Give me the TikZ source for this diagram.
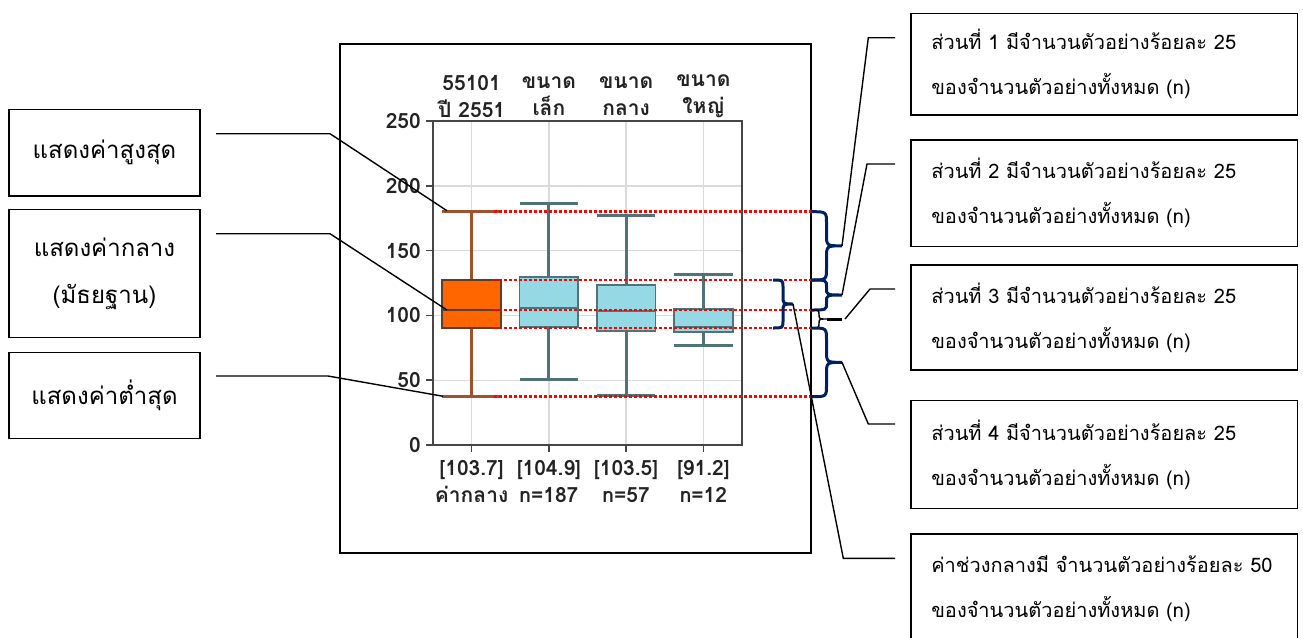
\documentclass[tikz,border=0pt]{standalone}
\usepackage{fontspec}
\newfontfamily\thaifont[Script=Thai]{Loma}
\definecolor{orfill}{RGB}{255,102,0}
\definecolor{orline}{RGB}{160,82,45}
\definecolor{oredge}{RGB}{90,62,40}
\definecolor{blfill}{RGB}{148,217,228}
\definecolor{bledge}{RGB}{80,115,120}
\definecolor{gridc}{RGB}{218,218,218}
\definecolor{spinec}{RGB}{70,70,70}
\definecolor{navy}{RGB}{0,32,96}
\definecolor{txtc}{RGB}{35,35,35}
\newcommand\mybrace[7]{%
  \pgfmathsetmacro\bxh{#2+#5/2}\pgfmathsetmacro\bxw{#2+#5}\pgfmathsetmacro\bm{(#3+#4)/2}%
  \draw[#1] (#2,#3) .. controls (\bxh,#3) .. (\bxh,#3+#6) -- (\bxh,\bm-#6)
    .. controls (\bxh,\bm) .. (\bxw,\bm) .. controls (\bxh,\bm) .. (\bxh,\bm+#6)
    -- (\bxh,#4-#6) .. controls (\bxh,#4) .. (#2,#4);
  \coordinate (#7) at (\bxw,\bm);}
\begin{document}
\begin{tikzpicture}[x=1pt,y=-1pt,
  lbox/.style={draw=black,line width=1.5pt,minimum width=191pt,align=center,
    font=\thaifont\fontsize{24}{47}\selectfont,inner sep=0pt},
  rbox/.style={draw=black,line width=1.5pt,minimum width=386.7pt,text width=346pt,
    align=left,inner xsep=20pt,font=\thaifont\fontsize{20}{45}\selectfont},
  conn/.style={draw=black,line width=1.4pt},
  gridl/.style={draw=gridc,line width=1.4pt},
  spine/.style={draw=spinec,line width=1.6pt},
  ticklab/.style={font=\thaifont\bfseries\fontsize{21}{24}\selectfont,text=txtc,inner sep=0pt},
  toplab/.style={font=\thaifont\bfseries\fontsize{21}{27}\selectfont,text=txtc,align=center,inner sep=0pt},
  whisk1/.style={draw=orline,line width=3pt},
  whisk2/.style={draw=bledge,line width=3pt},
  box1/.style={draw=oredge,fill=orfill,line width=1.8pt},
  box2/.style={draw=bledge,fill=blfill,line width=1.8pt},
  med1/.style={draw=oredge,line width=1.8pt},
  med2/.style={draw=bledge,line width=1.8pt},
  reddot/.style={draw=red,line width=2.5pt,dash pattern=on 2.5pt off 2.5pt},
  navybrace/.style={draw=navy,line width=3pt},
  blkbrace/.style={draw=black,line width=1.4pt}]
\useasboundingbox (0,0) rectangle (1303,637);
% chart frame
\node[draw=black,line width=2pt,minimum width=471pt,minimum height=509pt,inner sep=0pt] (frame) at (575.5,298.5) {};
% plot
\begin{scope}[shift={(394.375,445)},x=77.25pt,y=1.296pt]
  \foreach \v in {50,100,150,200} \draw[gridl] (0.5,\v) -- (4.5,\v);
  \foreach \k in {1,...,4} \draw[gridl] (\k,0) -- (\k,250);
  \draw[spine] (0.5,0) rectangle (4.5,250);
  \foreach \v in {0,50,...,250} {
    \draw[spine] (0.5,\v) -- ++(-7pt,0);
    \node[ticklab,anchor=east,xshift=-12pt] (yl\v) at (0.5,\v) {\v};}
  \foreach \k in {1,...,4} \draw[spine] (\k,0) -- ++(0,-7pt);
  % box 1
  \draw[whisk1] (1,37.3) -- (1,90.3) (1,127.3) -- (1,180) (0.62,180) -- (1.38,180) (0.62,37.3) -- (1.38,37.3);
  \draw[box1] (0.62,90.3) rectangle (1.38,127.3);
  \draw[med1] (0.62,104.2) -- (1.38,104.2);
  \coordinate (maxpt) at (0.68,180.8);
  \coordinate (medpt) at (0.68,104.2);
  \coordinate (minpt) at (0.63,37.6);
  % box 2
  \draw[whisk2] (2,50.4) -- (2,91.3) (2,129.9) -- (2,186.2) (1.62,186.2) -- (2.38,186.2) (1.62,50.4) -- (2.38,50.4);
  \draw[box2] (1.62,91.3) rectangle (2.38,129.9);
  \draw[med2] (1.62,105.7) -- (2.38,105.7);
  % box 3
  \draw[whisk2] (3,38) -- (3,88) (3,123.5) -- (3,176.7) (2.62,176.7) -- (3.38,176.7) (2.62,38) -- (3.38,38);
  \draw[box2] (2.62,88) rectangle (3.38,123.5);
  \draw[med2] (2.62,103.4) -- (3.38,103.4);
  % box 4
  \draw[whisk2] (4,76.4) -- (4,87) (4,104.7) -- (4,131.7) (3.62,131.7) -- (4.38,131.7) (3.62,76.4) -- (4.38,76.4);
  \draw[box2] (3.62,87) rectangle (4.38,104.7);
  \draw[med2] (3.62,91.3) -- (4.38,91.3);
  % red dotted reference lines
  \foreach \v in {180,127.3,104.2,90.3,37.3} \draw[reddot] (1.29,\v) -- (5.393,\v);
\end{scope}
% titles
\node[toplab] (t1) at (471.6,96.4) {55101\\ปี 2551};
\node[toplab] (t2) at (548.9,96.4) {ขนาด\\เล็ก};
\node[toplab] (t3) at (626.1,96.4) {ขนาด\\กลาง};
\node[toplab] (t4) at (703.4,96.4) {ขนาด\\ใหญ่};
\node[toplab] (b1) at (471.6,481.5) {[103.7]\\ค่ากลาง};
\node[toplab] (b2) at (548.9,481.5) {[104.9]\\n=187};
\node[toplab] (b3) at (626.1,481.5) {[103.5]\\n=57};
\node[toplab] (b4) at (703.4,481.5) {[91.2]\\n=12};
% braces
\mybrace{navybrace}{811}{211.7}{280}{31}{12}{br1}
\mybrace{navybrace}{811}{280}{310}{31}{7}{br2}
\mybrace{blkbrace}{811}{310}{328}{16}{5}{br3}
\draw[draw=black,line width=3pt] (br3) -- ++(15,0) coordinate (br3t);
\mybrace{navybrace}{811}{328}{396.7}{31}{12}{br4}
\mybrace{navybrace}{773}{280}{328}{20}{8}{br5}
% left boxes
\node[lbox,minimum height=86.7pt] (lb1) at (104.5,152.7) {\raisebox{4pt}{แสดงค่าสูงสุด}};
\node[lbox,minimum height=128.4pt] (lb2) at (104.5,273.5) {แสดงค่ากลาง\\(มัธยฐาน)};
\node[lbox,minimum height=85.6pt] (lb3) at (104.5,395.5) {\raisebox{5pt}{แสดงค่าต่ำสุด}};
% right boxes
\node[rbox,minimum height=101.7pt] (rb1) at (1104.3,64.2) {ส่วนที่ 1 มีจำนวนตัวอย่างร้อยละ 25\\ของจำนวนตัวอย่างทั้งหมด (n)};
\node[rbox,minimum height=106.7pt] (rb2) at (1104.3,193.3) {ส่วนที่ 2 มีจำนวนตัวอย่างร้อยละ 25\\ของจำนวนตัวอย่างทั้งหมด (n)};
\node[rbox,minimum height=105pt] (rb3) at (1104.3,317.5) {ส่วนที่ 3 มีจำนวนตัวอย่างร้อยละ 25\\ของจำนวนตัวอย่างทั้งหมด (n)};
\node[rbox,minimum height=107.6pt] (rb4) at (1104.3,454.5) {ส่วนที่ 4 มีจำนวนตัวอย่างร้อยละ 25\\ของจำนวนตัวอย่างทั้งหมด (n)};
\node[rbox,minimum height=110pt] (rb5) at (1104.3,589) {ค่าช่วงกลางมี จำนวนตัวอย่างร้อยละ 50\\ของจำนวนตัวอย่างทั้งหมด (n)};
% connector free ends
\coordinate (l1s) at (216,133.7); \coordinate (l1k) at (330,133.7);
\coordinate (l2s) at (216,233.7); \coordinate (l2k) at (330,233.7);
\coordinate (l3s) at (216,376);   \coordinate (l3k) at (328,376);
\coordinate (r1s) at (895,37.7);  \coordinate (r1k) at (868.3,37.7);
\coordinate (r2s) at (895,164);   \coordinate (r2k) at (867,164);
\coordinate (r3s) at (895,289);   \coordinate (r3k) at (870,289);
\coordinate (r4s) at (895,424);   \coordinate (r4k) at (868.3,424);
\coordinate (r5s) at (895,558.3); \coordinate (r5k) at (843.3,558.3);
\draw[conn] (l1s) -- (l1k) -- (maxpt);
\draw[conn] (l2s) -- (l2k) -- (medpt);
\draw[conn] (l3s) -- (l3k) -- (minpt);
\draw[conn] (r1s) -- (r1k) -- (br1);
\draw[conn] (r2s) -- (r2k) -- (br2);
\draw[conn] (r3s) -- (r3k) -- ([xshift=3pt]br3t);
\draw[conn] (r4s) -- (r4k) -- (br4);
\draw[conn] (r5s) -- (r5k) -- (br5);
\end{tikzpicture}
\end{document}
